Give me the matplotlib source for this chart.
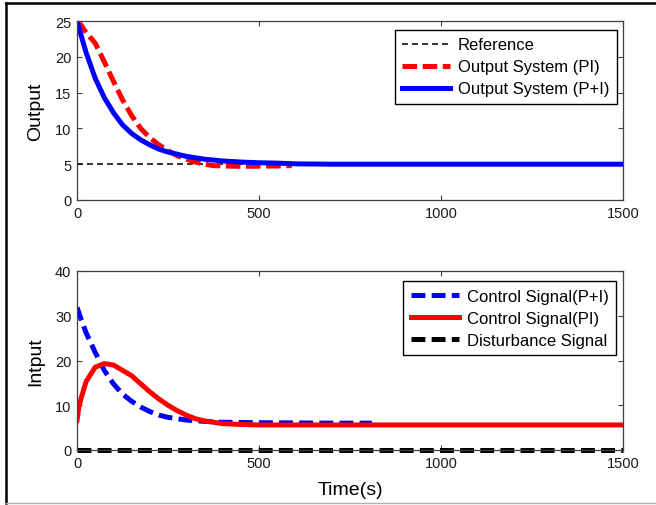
import matplotlib
matplotlib.use("Agg")
import matplotlib.pyplot as plt
from matplotlib.lines import Line2D

plt.rcParams['font.family'] = ['Liberation Sans', 'DejaVu Sans']
plt.rcParams['lines.scale_dashes'] = False

# ---- data ----
t_ref = [0, 1500]
y_ref = [5, 5]

t_pi = [0, 10, 25, 50, 75, 100, 125, 150, 175, 200, 225, 250, 275, 300,
        325, 350, 375, 400, 450, 500, 550, 590]
y_pi = [25, 24.5, 23.4, 21.9, 19.3, 16.6, 14.0, 11.8, 10.0, 8.7, 7.7, 6.9,
        6.2, 5.7, 5.3, 5.0, 4.8, 4.75, 4.7, 4.72, 4.75, 4.8]

t_ppi = [0, 10, 25, 50, 75, 100, 125, 150, 175, 200, 225, 250, 275, 300,
         350, 400, 450, 500, 550, 600, 700, 1500]
y_ppi = [25, 23.2, 20.6, 17.0, 14.3, 12.2, 10.5, 9.3, 8.4, 7.7, 7.1, 6.7,
         6.4, 6.1, 5.7, 5.45, 5.3, 5.2, 5.15, 5.05, 5.0, 5.0]

t_u_ppi = [0, 10, 25, 50, 75, 100, 125, 150, 175, 200, 225, 250, 275, 300,
           350, 400, 500, 600, 700, 810]
u_ppi = [31.9, 29.5, 26.2, 21.8, 17.8, 14.8, 12.5, 10.9, 9.6, 8.6, 7.8, 7.3,
         7.0, 6.7, 6.4, 6.2, 6.1, 6.05, 6.0, 6.0]

t_u_pi = [0, 5, 10, 25, 50, 75, 100, 125, 150, 175, 200, 225, 250, 275, 300,
          325, 350, 375, 400, 450, 500, 1500]
u_pi = [6.6, 9.5, 11.2, 15.3, 18.5, 19.3, 19.0, 17.8, 16.6, 14.8, 13.0, 11.4,
        10.0, 8.8, 7.8, 7.0, 6.5, 6.2, 5.9, 5.7, 5.6, 5.6]

t_dist = [0, 1500]
u_dist = [0, 0]

x_ticks = [0, 500, 1000, 1500]
y_ticks_top = [0, 5, 10, 15, 20, 25]
y_ticks_bot = [0, 10, 20, 30, 40]

W, H = 656, 506
fig = plt.figure(figsize=(W / 100, H / 100), dpi=100)

ax1 = fig.add_axes([77 / W, 1 - 201 / H, 546 / W, 179 / H])
ax2 = fig.add_axes([77 / W, 1 - 451 / H, 546 / W, 179 / H])

ax1.plot(t_ref, y_ref, color='black', lw=1.1, dashes=(4.3, 2.9), label='Reference')
ax1.plot(t_pi, y_pi, color='red', lw=3.6, dashes=(10.5, 4), label='Output System (PI)')
ax1.plot(t_ppi, y_ppi, color='blue', lw=3.6, label='Output System (P+I)')

ax2.plot(t_u_ppi, u_ppi, color='blue', lw=3.6, dashes=(10, 4.5), label='Control Signal(P+I)')
ax2.plot(t_u_pi, u_pi, color='red', lw=3.6, label='Control Signal(PI)')
ax2.plot(t_dist, u_dist, color='black', lw=3.6, dashes=(10, 4.5), clip_on=False,
         label='Disturbance Signal')

for ax, yt in ((ax1, y_ticks_top), (ax2, y_ticks_bot)):
    ax.set_xlim(0, 1500)
    ax.set_ylim(yt[0], yt[-1])
    ax.set_xticks(x_ticks)
    ax.set_yticks(yt)
    ax.tick_params(direction='in', length=3.6, width=0.8, top=True, right=True,
                   labelsize=10.5, colors='#404040', labelcolor='#1a1a1a', pad=4)
    for s in ax.spines.values():
        s.set_color('#404040')
        s.set_linewidth(0.9)

ax1.set_ylabel('Output', fontsize=14, labelpad=8)
ax2.set_ylabel('Intput', fontsize=14, labelpad=8)
ax2.set_xlabel('Time(s)', fontsize=14, labelpad=8)

leg_kw = dict(loc='upper right', borderaxespad=0, fontsize=12, fancybox=False,
              framealpha=1, edgecolor='black', handlelength=2.9,
              handletextpad=0.45, labelspacing=0.42, borderpad=0.45)
l1 = ax1.legend(bbox_to_anchor=(0.989, 0.950), **leg_kw)
l2 = ax2.legend(bbox_to_anchor=(0.987, 0.944), **leg_kw)
for lg in (l1, l2):
    lg.get_frame().set_linewidth(1.0)

# frame around the figure as in the reference image
fig.add_artist(Line2D([6 / W, 1], [1 - 4 / H, 1 - 4 / H], color='black', lw=1.8))
fig.add_artist(Line2D([6 / W, 6 / W], [1 - 4 / H, 1 - 504 / H], color='black', lw=1.8))
fig.add_artist(Line2D([6 / W, 1], [1 - 504 / H, 1 - 504 / H], color='#b0b0b0', lw=1.0))

fig.savefig('out.png', dpi=100)
